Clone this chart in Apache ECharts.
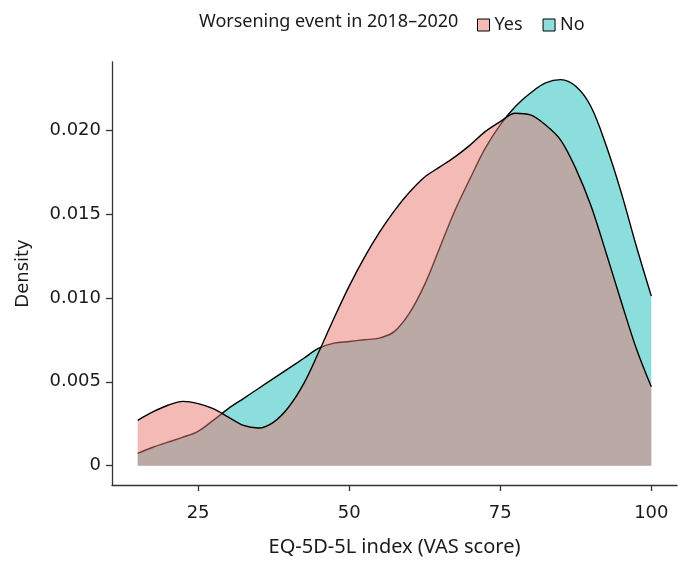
<!DOCTYPE html>
<html>
<head>
<meta charset="utf-8">
<script src="https://cdn.jsdelivr.net/npm/echarts@6/dist/echarts.min.js"></script>
<style>
  html, body { margin: 0; padding: 0; background: #fff; }
  #chart { width: 683px; height: 562px; }
</style>
</head>
<body>
<div id="chart"></div>
<script>
// VAS score grid and estimated densities
var vasScore = [15, 17.5, 20, 22.5, 25, 27.5, 30, 32.5, 35, 37.5, 40, 42.5, 45, 47.5, 50,
    52.5, 55, 57.5, 60, 62.5, 65, 67.5, 70, 72.5, 75, 77.5, 80, 82.5, 85, 87.5, 90,
    92.5, 95, 97.5, 100];
var densityYes = [0.0027, 0.0032, 0.0036, 0.00383, 0.0037, 0.0034, 0.0029, 0.0024, 0.00225, 0.0026, 0.0035, 0.0049, 0.0068, 0.0088, 0.0107,
    0.0124, 0.0139, 0.0152, 0.0163, 0.0172, 0.0178, 0.0184, 0.0191, 0.0199, 0.0205, 0.0210, 0.0209, 0.0203, 0.0194, 0.0177, 0.0155,
    0.0127, 0.0098, 0.0070, 0.0047];
var densityNo = [0.00073, 0.0011, 0.0014, 0.0017, 0.00205, 0.0027, 0.0034, 0.0040, 0.0046, 0.0052, 0.0058, 0.0064, 0.0070, 0.0073, 0.0074,
    0.0075, 0.0076, 0.0080, 0.0091, 0.0108, 0.0130, 0.0152, 0.0171, 0.0189, 0.0203, 0.0214, 0.0222, 0.0228, 0.0230, 0.0226, 0.0214,
    0.0191, 0.0163, 0.0131, 0.0101];
var xTicks = [25, 50, 75, 100];
var yTicks = [0, 0.005, 0.010, 0.015, 0.020];

var colYes = "rgba(234,117,107,0.5)";
var colNo = "rgba(25,189,187,0.5)";

function pairs(xs, ys) {
    var out = [];
    for (var i = 0; i < xs.length; i++) {
        out.push([xs[i], ys[i]]);
    }
    return out;
}

var axisLineStyle = {color: "#333", width: 1.3};

var option = {
    animation: false,
    title: {
        text: "Worsening event in 2018\u20132020",
        left: 194,
        top: 8,
        textStyle: {fontFamily: "Noto Sans", fontSize: 18, fontWeight: "normal", color: "#1a1a1a"}
    },
    legend: {
        left: 472,
        top: 11,
        icon: "rect",
        itemWidth: 12,
        itemHeight: 12,
        itemGap: 20,
        textStyle: {fontFamily: "Noto Sans", fontSize: 18, color: "#1a1a1a"},
        data: [
            {name: "Yes", itemStyle: {color: colYes, borderColor: "#000", borderWidth: 1}},
            {name: "No", itemStyle: {color: colNo, borderColor: "#000", borderWidth: 1}}
        ]
    },
    grid: {left: 112, top: 62, right: 6, bottom: 75},
    xAxis: {
        type: "value",
        min: 10.75,
        max: 104.25,
        name: "EQ-5D-5L index (VAS score)",
        nameLocation: "middle",
        nameGap: 52,
        nameTextStyle: {fontFamily: "Noto Sans", fontSize: 20, color: "#1a1a1a"},
        axisLine: {onZero: false, lineStyle: axisLineStyle},
        axisTick: {length: 6, lineStyle: axisLineStyle, customValues: xTicks},
        axisLabel: {
            customValues: xTicks,
            margin: 19,
            fontFamily: "DejaVu Sans",
            fontSize: 18,
            color: "#1a1a1a"
        },
        splitLine: {show: false}
    },
    yAxis: {
        type: "value",
        min: -0.00115,
        max: 0.02405,
        name: "Density",
        nameLocation: "middle",
        nameGap: 80,
        nameRotate: 90,
        nameTextStyle: {fontFamily: "DejaVu Sans", fontSize: 18, color: "#1a1a1a"},
        axisLine: {show: true, onZero: false, lineStyle: axisLineStyle},
        axisTick: {show: true, length: 6, lineStyle: axisLineStyle, customValues: yTicks},
        axisLabel: {
            customValues: yTicks,
            margin: 11,
            fontFamily: "DejaVu Sans",
            fontSize: 18,
            color: "#1a1a1a",
            formatter: function (v) {
                return v === 0 ? "0" : v.toFixed(3);
            }
        },
        splitLine: {show: false}
    },
    series: [
        {
            name: "No",
            type: "line",
            z: 2,
            smooth: 0.35,
            showSymbol: false,
            data: pairs(vasScore, densityNo),
            itemStyle: {color: colNo},
            lineStyle: {color: "#000", width: 1.4},
            areaStyle: {color: colNo, opacity: 1, origin: 0}
        },
        {
            name: "Yes",
            type: "line",
            z: 3,
            smooth: 0.35,
            showSymbol: false,
            data: pairs(vasScore, densityYes),
            itemStyle: {color: colYes},
            lineStyle: {color: "#000", width: 1.4},
            areaStyle: {color: colYes, opacity: 1, origin: 0}
        }
    ]
};

var chart = echarts.init(document.getElementById("chart"));
chart.setOption(option);
</script>
</body>
</html>
